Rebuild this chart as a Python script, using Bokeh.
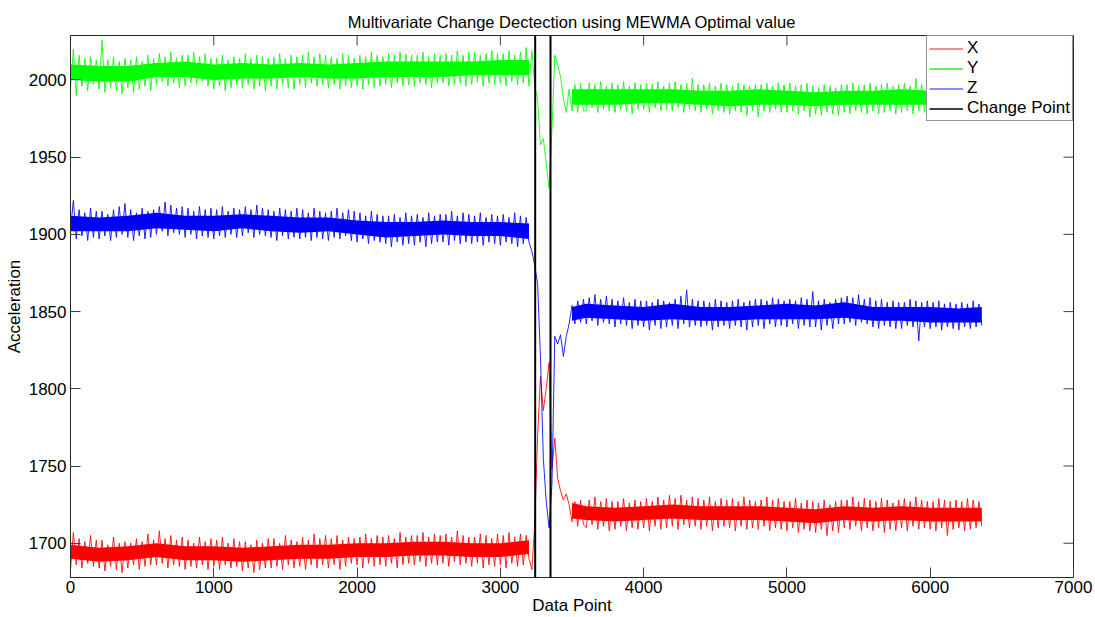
import numpy as np
from bokeh.plotting import figure
from bokeh.models import Range1d, FixedTicker, Span, Legend, LegendItem
from bokeh.embed import file_html
from bokeh.resources import INLINE

# ---- data (one value every 20 data points) ----
STEP = 20
x_vals = [
    1683, 1707, 1686, 1703, 1684, 1701, 1687, 1705, 1685, 1702,
    1684, 1702, 1682, 1699, 1685, 1704, 1683, 1700, 1681, 1701,
    1684, 1700, 1686, 1703, 1683, 1701, 1685, 1706, 1686, 1702,
    1686, 1708, 1687, 1703, 1684, 1705, 1686, 1702, 1685, 1704,
    1683, 1702, 1685, 1700, 1684, 1704, 1686, 1701, 1683, 1703,
    1685, 1702, 1683, 1704, 1686, 1700, 1684, 1703, 1685, 1701,
    1682, 1701, 1684, 1699, 1681, 1702, 1683, 1700, 1684, 1703,
    1684, 1703, 1685, 1700, 1683, 1705, 1686, 1702, 1684, 1701,
    1685, 1704, 1683, 1702, 1686, 1706, 1684, 1703, 1686, 1705,
    1684, 1703, 1686, 1705, 1683, 1702, 1685, 1704, 1687, 1703,
    1686, 1704, 1684, 1706, 1687, 1703, 1685, 1705, 1686, 1704,
    1685, 1705, 1687, 1703, 1684, 1707, 1686, 1704, 1687, 1705,
    1686, 1705, 1688, 1707, 1685, 1704, 1687, 1706, 1686, 1705,
    1687, 1706, 1685, 1704, 1688, 1708, 1686, 1705, 1687, 1704,
    1685, 1704, 1687, 1706, 1684, 1705, 1686, 1703, 1685, 1706,
    1686, 1705, 1684, 1707, 1687, 1704, 1685, 1706, 1686, 1705,
    1690, 1683, 1712, 1770, 1808, 1786, 1800, 1817, 1748, 1768,
    1742, 1734, 1728, 1732, 1725, 1714, 1727, 1711, 1728, 1712,
    1710, 1728, 1712, 1730, 1709, 1727, 1711, 1729, 1708, 1727,
    1709, 1727, 1711, 1729, 1708, 1726, 1710, 1728, 1709, 1727,
    1710, 1729, 1708, 1727, 1711, 1730, 1709, 1728, 1710, 1731,
    1711, 1729, 1709, 1731, 1712, 1728, 1710, 1730, 1711, 1729,
    1709, 1728, 1711, 1730, 1708, 1727, 1710, 1729, 1711, 1728,
    1710, 1729, 1708, 1727, 1711, 1730, 1709, 1728, 1710, 1727,
    1709, 1728, 1711, 1730, 1708, 1728, 1710, 1729, 1709, 1727,
    1708, 1727, 1710, 1729, 1707, 1726, 1709, 1728, 1708, 1727,
    1707, 1726, 1709, 1728, 1705, 1725, 1708, 1727, 1707, 1728,
    1710, 1728, 1709, 1730, 1711, 1727, 1708, 1729, 1710, 1728,
    1708, 1727, 1710, 1729, 1707, 1728, 1709, 1726, 1708, 1728,
    1710, 1729, 1708, 1727, 1711, 1730, 1709, 1728, 1710, 1727,
    1709, 1727, 1708, 1729, 1710, 1728, 1705, 1727, 1709, 1728,
    1710, 1727, 1708, 1729, 1709, 1728, 1710, 1727, 1711,
]
y_vals = [
    1994, 2020, 1990, 2016, 1996, 2014, 1993, 2015, 1997, 2013,
    1994, 2026, 1992, 2013, 1995, 2015, 1993, 2012, 1991, 2014,
    1995, 2013, 1992, 2015, 1994, 2012, 1996, 2016, 1993, 2014,
    1997, 2017, 1999, 2015, 1996, 2018, 1998, 2014, 1995, 2016,
    1996, 2016, 1998, 2018, 1997, 2015, 1999, 2017, 1996, 2014,
    1994, 2014, 1996, 2016, 1993, 2013, 1995, 2015, 1997, 2014,
    1995, 2017, 1997, 2014, 1994, 2016, 1996, 2015, 1993, 2014,
    1996, 2015, 1994, 2017, 1997, 2014, 1995, 2016, 1994, 2015,
    1997, 2016, 1995, 2018, 1998, 2015, 1996, 2017, 1997, 2016,
    1995, 2015, 1997, 2014, 1994, 2017, 1996, 2016, 1995, 2014,
    1996, 2016, 1994, 2015, 1997, 2018, 1995, 2016, 1996, 2015,
    1997, 2017, 1995, 2016, 1998, 2018, 1996, 2017, 1997, 2016,
    1996, 2016, 1998, 2018, 1997, 2015, 1995, 2017, 1998, 2016,
    1998, 2017, 1996, 2016, 1997, 2019, 1998, 2016, 1996, 2018,
    1997, 2018, 1999, 2016, 1996, 2017, 1998, 2019, 1997, 2017,
    1998, 2017, 1996, 2019, 1999, 2016, 1997, 2018, 1998, 2021,
    1996, 2019, 1996, 1988, 1958, 1962, 1946, 1930, 1968, 2016,
    2010, 2002, 1988, 1979, 1994, 1980, 1997, 1979, 1998, 1980,
    1980, 1998, 1982, 1997, 1979, 1999, 1981, 1996, 1980, 1998,
    1979, 1997, 1981, 1999, 1980, 1996, 1978, 1998, 1981, 1997,
    1981, 1998, 1979, 1997, 1982, 1999, 1980, 1996, 1981, 1998,
    1980, 1999, 1982, 1997, 1979, 1998, 1981, 2001, 1980, 1997,
    1979, 1997, 1981, 1998, 1978, 1996, 1980, 1998, 1979, 1997,
    1978, 1996, 1980, 1998, 1979, 1997, 1977, 1996, 1980, 1997,
    1976, 1997, 1980, 1998, 1979, 1996, 1981, 1998, 1979, 1997,
    1979, 1998, 1980, 1996, 1978, 1997, 1980, 1998, 1976, 1996,
    1978, 1995, 1977, 1997, 1979, 1996, 1978, 1995, 1977, 1997,
    1979, 1997, 1978, 1998, 1980, 1996, 1979, 1997, 1978, 1998,
    1980, 1996, 1978, 1997, 1979, 1998, 1980, 1996, 1978, 1997,
    1979, 1998, 1980, 1996, 1978, 2001, 1980, 1997, 1979, 1998,
    1980, 1997, 1978, 1998, 1979, 1996, 1980, 1998, 1978, 1997,
    1979, 1998, 1980, 1996, 1978, 1997, 1980, 1998, 1981,
]
z_vals = [
    1903, 1922, 1897, 1916, 1899, 1914, 1896, 1917, 1898, 1915,
    1897, 1915, 1899, 1913, 1896, 1916, 1898, 1918, 1900, 1920,
    1898, 1916, 1896, 1914, 1899, 1917, 1897, 1915, 1898, 1916,
    1900, 1918, 1902, 1921, 1899, 1919, 1901, 1917, 1900, 1918,
    1898, 1917, 1900, 1915, 1897, 1918, 1899, 1916, 1898, 1917,
    1897, 1916, 1899, 1918, 1898, 1915, 1900, 1917, 1898, 1916,
    1899, 1918, 1901, 1916, 1898, 1919, 1900, 1917, 1899, 1916,
    1898, 1915, 1896, 1917, 1899, 1916, 1897, 1915, 1898, 1917,
    1897, 1916, 1898, 1914, 1896, 1917, 1898, 1915, 1897, 1914,
    1896, 1915, 1898, 1917, 1897, 1914, 1899, 1916, 1896, 1915,
    1895, 1914, 1897, 1912, 1894, 1915, 1896, 1913, 1895, 1912,
    1894, 1912, 1892, 1913, 1895, 1911, 1893, 1914, 1894, 1912,
    1893, 1913, 1895, 1911, 1892, 1914, 1894, 1912, 1895, 1913,
    1895, 1913, 1893, 1915, 1896, 1912, 1894, 1914, 1895, 1913,
    1894, 1912, 1895, 1914, 1893, 1911, 1895, 1913, 1894, 1912,
    1893, 1913, 1895, 1911, 1894, 1914, 1892, 1912, 1894, 1911,
    1895, 1889, 1880, 1868, 1820, 1755, 1727, 1710, 1738, 1834,
    1829, 1835, 1821, 1834, 1842, 1854, 1842, 1857, 1843, 1858,
    1842, 1859, 1844, 1861, 1841, 1858, 1843, 1860, 1842, 1858,
    1840, 1857, 1842, 1859, 1841, 1856, 1839, 1858, 1841, 1857,
    1840, 1857, 1838, 1856, 1841, 1858, 1839, 1857, 1840, 1856,
    1841, 1858, 1839, 1860, 1842, 1864, 1840, 1858, 1841, 1857,
    1840, 1857, 1841, 1856, 1838, 1858, 1840, 1857, 1841, 1856,
    1839, 1857, 1841, 1858, 1840, 1856, 1838, 1857, 1840, 1858,
    1841, 1858, 1839, 1857, 1842, 1859, 1840, 1858, 1841, 1857,
    1840, 1858, 1842, 1857, 1839, 1859, 1841, 1858, 1840, 1863,
    1840, 1857, 1838, 1858, 1841, 1856, 1839, 1858, 1842, 1859,
    1842, 1860, 1843, 1859, 1841, 1861, 1843, 1858, 1842, 1859,
    1840, 1857, 1839, 1858, 1841, 1856, 1840, 1857, 1839, 1856,
    1839, 1856, 1841, 1858, 1840, 1857, 1831, 1856, 1840, 1857,
    1839, 1856, 1840, 1857, 1838, 1855, 1840, 1856, 1839, 1855,
    1838, 1856, 1840, 1855, 1839, 1857, 1840, 1855, 1841,
]

# dense core of each noisy band (where the trace is solid colour), read before / after the change
band_pos_pre = [0, 200, 400, 600, 800, 1000, 1200, 1400, 1600, 1800,
                2000, 2200, 2400, 2600, 2800, 3000, 3200]
band_pos_post = [3500, 3600, 3800, 4000, 4200, 4400, 4600, 4800, 5000, 5200,
                 5400, 5600, 5800, 6000, 6200, 6360]
x_core_lo_pre = [1690, 1688, 1689, 1691, 1689, 1689, 1688, 1689, 1690, 1690,
                 1691, 1691, 1692, 1692, 1691, 1691, 1693]
x_core_hi_pre = [1699, 1697, 1698, 1700, 1698, 1698, 1697, 1698, 1699, 1699,
                 1700, 1700, 1701, 1701, 1700, 1700, 1702]
x_core_lo_post = [1716, 1715, 1714, 1715, 1716, 1715, 1715, 1715, 1714, 1713,
                  1715, 1714, 1715, 1714, 1714, 1714]
x_core_hi_post = [1726, 1724, 1723, 1724, 1725, 1724, 1724, 1724, 1723, 1722,
                  1724, 1723, 1724, 1723, 1723, 1723]
y_core_lo_pre = [2000, 1999, 1999, 2002, 2002, 2000, 2001, 2001, 2002, 2001,
                 2001, 2002, 2002, 2002, 2003, 2003, 2003]
y_core_hi_pre = [2010, 2009, 2009, 2011, 2012, 2010, 2011, 2010, 2011, 2010,
                 2011, 2012, 2012, 2012, 2012, 2013, 2013]
y_core_lo_post = [1984, 1984, 1984, 1985, 1985, 1984, 1983, 1984, 1984, 1983,
                  1984, 1984, 1984, 1984, 1984, 1984]
y_core_hi_post = [1994, 1994, 1994, 1994, 1994, 1993, 1993, 1994, 1993, 1992,
                  1993, 1993, 1994, 1993, 1993, 1994]
z_core_lo_pre = [1902, 1902, 1902, 1904, 1903, 1902, 1904, 1902, 1901, 1902,
                 1900, 1898, 1899, 1900, 1899, 1899, 1897]
z_core_hi_pre = [1912, 1911, 1912, 1914, 1912, 1912, 1913, 1912, 1911, 1911,
                 1909, 1908, 1908, 1909, 1908, 1908, 1907]
z_core_lo_post = [1844, 1846, 1845, 1844, 1845, 1844, 1844, 1845, 1845, 1845,
                  1846, 1844, 1844, 1843, 1843, 1843]
z_core_hi_post = [1853, 1855, 1854, 1853, 1855, 1853, 1853, 1854, 1855, 1854,
                  1856, 1853, 1853, 1853, 1852, 1853]

change_points = [3243, 3350]
series_names = ["X", "Y", "Z"]
series_colors = ["#ff0000", "#00ff00", "#0000ff"]
legend_colors = ["#f06a6a", "#2cf02c", "#6464ff"]
x_ticks = [0, 1000, 2000, 3000, 4000, 5000, 6000, 7000]
y_ticks = [1700, 1750, 1800, 1850, 1900, 1950, 2000]
x_limits = (0, 7000)
y_limits = (1677.8, 2028.8)

FONT = "Liberation Sans"
AXIS_COLOR = "#262626"
TICK_COLOR = "#404040"
data_point = np.arange(len(x_vals)) * STEP

p = figure(width=1095, height=617, output_backend="svg", toolbar_location=None,
           x_range=Range1d(*x_limits), y_range=Range1d(*y_limits),
           title="Multivariate Change Dectection using MEWMA Optimal value",
           min_border_left=70, min_border_right=22, min_border_top=35, min_border_bottom=40)
p.title.text_font = FONT
p.title.text_font_size = "16.5px"
p.title.text_font_style = "normal"
p.title.text_color = "black"
p.title.align = "center"
p.title.standoff = 9
p.xgrid.visible = False
p.ygrid.visible = False
p.outline_line_color = AXIS_COLOR
p.outline_line_width = 1
p.background_fill_color = "white"
p.border_fill_color = "white"

for ax in (p.xaxis[0], p.yaxis[0]):
    ax.major_tick_in = 10
    ax.major_tick_out = 0
    ax.minor_tick_line_color = None
    ax.axis_line_color = AXIS_COLOR
    ax.major_tick_line_color = TICK_COLOR
    ax.major_label_text_font = FONT
    ax.major_label_text_font_size = "17px"
    ax.major_label_text_color = "black"
    ax.axis_label_text_font = FONT
    ax.axis_label_text_font_size = "17px"
    ax.axis_label_text_font_style = "normal"
    ax.axis_label_text_color = "black"
p.xaxis[0].ticker = FixedTicker(ticks=x_ticks)
p.yaxis[0].ticker = FixedTicker(ticks=y_ticks)
p.xaxis[0].axis_label = "Data Point"
p.yaxis[0].axis_label = "Acceleration"
p.xaxis[0].major_label_standoff = 3
p.xaxis[0].axis_label_standoff = 0
p.yaxis[0].major_label_standoff = 4
p.yaxis[0].axis_label_standoff = 2

# mirrored tick marks on the top and right edges of the box (clipped to the frame)
p.scatter(x_ticks, [y_limits[1]] * len(x_ticks), marker="dash", size=20, angle=np.pi / 2,
          line_color=TICK_COLOR, line_width=1)
p.scatter([x_limits[1]] * len(y_ticks), y_ticks, marker="dash", size=20,
          line_color=TICK_COLOR, line_width=1)

vals = [x_vals, y_vals, z_vals]
cores = [
    (x_core_lo_pre, x_core_hi_pre, x_core_lo_post, x_core_hi_post),
    (y_core_lo_pre, y_core_hi_pre, y_core_lo_post, y_core_hi_post),
    (z_core_lo_pre, z_core_hi_pre, z_core_lo_post, z_core_hi_post),
]
for name, color, v, (lo1, hi1, lo2, hi2) in zip(series_names, series_colors, vals, cores):
    p.varea(x=band_pos_pre, y1=lo1, y2=hi1, fill_color=color, fill_alpha=1)
    p.varea(x=band_pos_post, y1=lo2, y2=hi2, fill_color=color, fill_alpha=1)
    p.line(data_point, v, line_color=color, line_width=1, line_alpha=0.85)

for cp in change_points:
    p.add_layout(Span(location=cp, dimension="height", line_color="black", line_width=2))

# legend entries (thin lines appear lighter in the original legend)
items = []
for name, color in zip(series_names, legend_colors):
    r = p.line([np.nan], [np.nan], line_color=color, line_width=1.5)
    items.append(LegendItem(label=name, renderers=[r]))
rc = p.line([np.nan], [np.nan], line_color="black", line_width=1.5)
items.append(LegendItem(label="Change Point", renderers=[rc]))

legend = Legend(items=items, location="top_right", margin=0, padding=2, spacing=0,
                glyph_width=34, glyph_height=19, label_height=19, label_standoff=4,
                label_text_font=FONT, label_text_font_size="17px", label_text_color="black",
                border_line_color=AXIS_COLOR, border_line_width=1,
                background_fill_color="white", background_fill_alpha=1)
p.add_layout(legend)

open("out.html", "w").write(file_html(p, INLINE))
